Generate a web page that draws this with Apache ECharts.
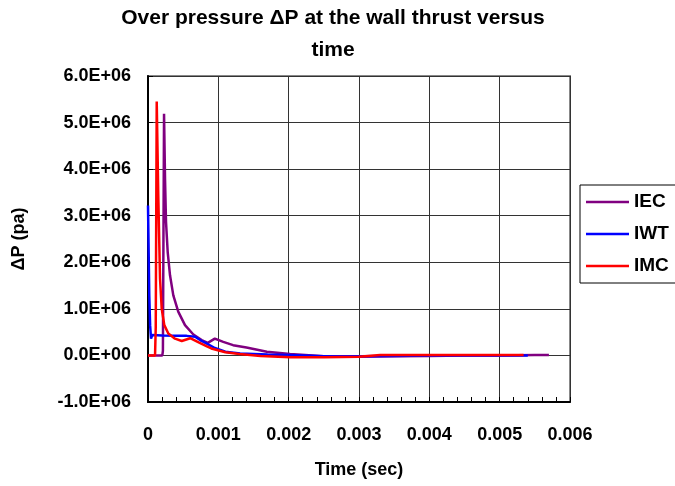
<!DOCTYPE html>
<html><head><meta charset="utf-8">
<script src="https://cdn.jsdelivr.net/npm/echarts@6/dist/echarts.min.js"></script>
<style>html,body{margin:0;padding:0;background:#fff}#c{width:675px;height:486px}</style>
</head><body><div id="c"></div>
<script>
const seriesNames = ["IEC", "IWT", "IMC"];
const xTicks = [0, 0.001, 0.002, 0.003, 0.004, 0.005, 0.006];
const yTicks = [-1e6, 0, 1e6, 2e6, 3e6, 4e6, 5e6, 6e6];

const iecTime = [0, 0.000204, 0.000212, 0.000228, 0.000242, 0.000256, 0.00028, 0.000313, 0.00036, 0.00043, 0.000526, 0.000645, 0.000763, 0.00085, 0.00095, 0.00107, 0.00121, 0.0014, 0.00169, 0.00202, 0.0025, 0.003, 0.0035, 0.004, 0.0045, 0.005, 0.0055, 0.0057];
const iecP = [0, 0, 0.1e6, 5.19e6, 3.8e6, 2.87e6, 2.22e6, 1.72e6, 1.29e6, 0.94e6, 0.65e6, 0.45e6, 0.33e6, 0.27e6, 0.36e6, 0.29e6, 0.22e6, 0.17e6, 0.08e6, 0.03e6, -0.02e6, -0.03e6, -0.02e6, -0.01e6, 0, 0, 0.01e6, 0.01e6];

const iwtTime = [0, 0.000018, 0.00003, 0.000043, 0.000062, 0.0002, 0.0004, 0.00055, 0.00067, 0.00074, 0.00083, 0.00095, 0.0011, 0.00131, 0.0017, 0.002, 0.0025, 0.003, 0.0035, 0.004, 0.0045, 0.005, 0.0054];
const iwtP = [3.22e6, 1.29e6, 0.65e6, 0.36e6, 0.44e6, 0.43e6, 0.42e6, 0.42e6, 0.4e6, 0.33e6, 0.26e6, 0.16e6, 0.08e6, 0.04e6, 0.02e6, 0.01e6, -0.02e6, -0.02e6, -0.01e6, 0, 0, 0, 0];

const imcTime = [0, 0.0001, 0.00011, 0.000124, 0.000146, 0.000171, 0.000195, 0.000232, 0.000289, 0.000384, 0.00048, 0.0006, 0.00072, 0.00083, 0.0009, 0.0011, 0.0013, 0.0016, 0.00202, 0.0025, 0.003, 0.0033, 0.004, 0.0045, 0.005, 0.00534];
const imcP = [0, 0, 0.6e6, 5.45e6, 3.44e6, 1.65e6, 1.0e6, 0.65e6, 0.47e6, 0.36e6, 0.31e6, 0.37e6, 0.28e6, 0.2e6, 0.15e6, 0.07e6, 0.03e6, -0.01e6, -0.04e6, -0.04e6, -0.03e6, 0.01e6, 0.01e6, 0.01e6, 0.01e6, 0.01e6];

const colors = ["#800080", "#0000FF", "#FF0000"];
const times = [iecTime, iwtTime, imcTime];
const vals = [iecP, iwtP, imcP];
const FONT = "Liberation Sans, Arial, sans-serif";

const chart = echarts.init(document.getElementById('c'), null, {renderer: 'canvas'});
chart.setOption({
  animation: false,
  title: {
    text: "Over pressure \u0394P at the wall thrust versus\ntime",
    left: 328, textAlign: 'center', top: -3,
    textStyle: {fontFamily: FONT, fontWeight: 'bold', fontSize: 21, lineHeight: 32, color: '#000'}
  },
  legend: {
    orient: 'vertical', left: 580, top: 185,
    data: seriesNames.map(n => ({name: n, icon: 'rect'})),
    borderColor: '#000', borderWidth: 1, padding: [6, 14, 6, 6],
    itemWidth: 43, itemHeight: 2.5, itemGap: 10,
    textStyle: {fontFamily: FONT, fontWeight: 'bold', fontSize: 19, lineHeight: 22, color: '#000'}
  },
  grid: {left: 148, top: 76, right: 105, bottom: 84, show: true, borderColor: '#888', borderWidth: 2},
  xAxis: {
    type: 'value', min: xTicks[0], max: xTicks[xTicks.length - 1], interval: 0.001,
    name: 'Time (sec)', nameLocation: 'middle', nameGap: 59,
    nameTextStyle: {fontFamily: FONT, fontWeight: 'bold', fontSize: 18, color: '#000'},
    axisLine: {onZero: false, lineStyle: {color: '#000', width: 2}},
    axisTick: {inside: true, length: 5, lineStyle: {color: '#000'}},
    minorTick: {show: true, splitNumber: 5, length: 5, lineStyle: {color: '#000'}},
    splitLine: {show: true, lineStyle: {color: '#333', width: 1}},
    axisLabel: {margin: 24, fontFamily: FONT, fontWeight: 'bold', fontSize: 18, color: '#000',
      formatter: v => v === 0 ? '0' : v.toFixed(3)}
  },
  yAxis: {
    type: 'value', min: yTicks[0], max: yTicks[yTicks.length - 1], interval: 1e6,
    name: '\u0394P (pa)', nameLocation: 'middle', nameGap: 120, nameRotate: 90,
    nameTextStyle: {fontFamily: FONT, fontWeight: 'bold', fontSize: 18, color: '#000'},
    axisLine: {onZero: false, lineStyle: {color: '#000', width: 2}},
    axisTick: {inside: true, length: 5, lineStyle: {color: '#000'}},
    splitLine: {show: true, lineStyle: {color: '#333', width: 1}},
    axisLabel: {margin: 17, fontFamily: FONT, fontWeight: 'bold', fontSize: 18, color: '#000',
      formatter: v => {
        if (Math.abs(v) < 1) return '0.0E+00';
        return (v / 1e6).toFixed(1) + 'E+06';
      }}
  },
  series: seriesNames.map((n, i) => ({
    name: n, type: 'line', symbol: 'none', color: colors[i],
    lineStyle: {color: colors[i], width: 2.5},
    data: times[i].map((t, k) => [t, vals[i][k]])
  }))
});
</script></body></html>
